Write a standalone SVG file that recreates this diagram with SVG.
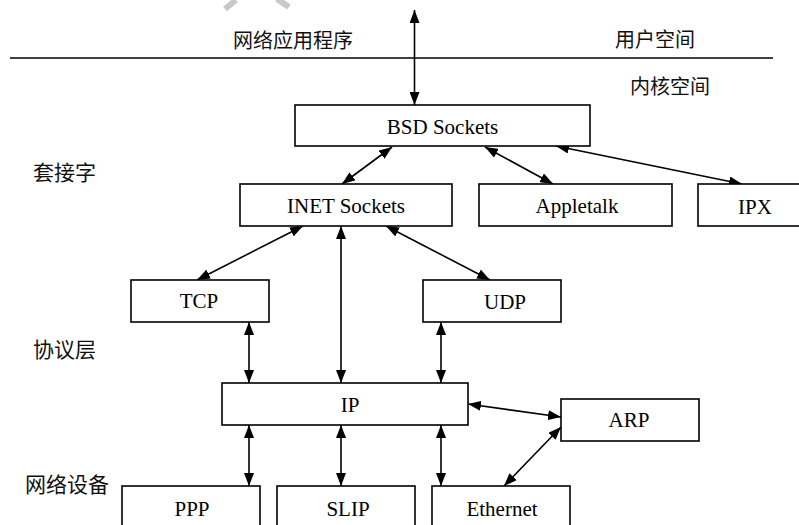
<svg xmlns="http://www.w3.org/2000/svg" width="799" height="525" viewBox="0 0 799 525">
<style>
.box{fill:#fff;stroke:#000;stroke-width:1.6}
.t{font-family:"Liberation Serif","Times New Roman",serif;font-size:21px;fill:#000;text-anchor:middle}
.c{font-family:"Noto Sans CJK SC","Noto Sans CJK TC",sans-serif;font-size:20px;fill:#111}
.e{stroke:#000;stroke-width:1.6;fill:none;marker-start:url(#a);marker-end:url(#a)}
</style>
<defs>
<marker id="a" viewBox="0 0 13 10" refX="13" refY="5" markerWidth="13" markerHeight="10" markerUnits="userSpaceOnUse" orient="auto-start-reverse">
<path d="M0,0 L13,5 L0,10 Z" fill="#000"/>
</marker>
</defs>
<rect width="799" height="525" fill="#fff"/>
<g id="watermark" stroke="#c8c8c8" stroke-width="6" stroke-linecap="butt">
<line x1="225" y1="9" x2="236" y2="0"/>
<line x1="277" y1="-1" x2="289" y2="7"/>
</g>
<g id="boundary">
<line x1="10" y1="58" x2="773" y2="58" stroke="#000" stroke-width="1.6"/>
<text class="c" x="233" y="48">网络应用程序</text>
<text class="c" x="615" y="47">用户空间</text>
<text class="c" x="630" y="94">内核空间</text>
</g>
<g id="labels">
<text class="c" x="33" y="180" style="font-size:21px">套接字</text>
<text class="c" x="33" y="357" style="font-size:21px">协议层</text>
<text class="c" x="25" y="492" style="font-size:21px">网络设备</text>
</g>
<g id="connectors">
<line class="e" x1="414.5" y1="10" x2="414.5" y2="105"/>
<line class="e" x1="392" y1="147" x2="342" y2="184"/>
<line class="e" x1="485" y1="147" x2="553" y2="184"/>
<line class="e" x1="556" y1="146" x2="742" y2="184"/>
<line class="e" x1="303" y1="226" x2="197" y2="280"/>
<line class="e" x1="341" y1="226" x2="341" y2="383"/>
<line class="e" x1="386" y1="226" x2="490" y2="280"/>
<line class="e" x1="249" y1="322" x2="249" y2="383"/>
<line class="e" x1="441" y1="322" x2="441" y2="383"/>
<line class="e" x1="468" y1="404" x2="561" y2="417"/>
<line class="e" x1="249" y1="425" x2="249" y2="486"/>
<line class="e" x1="341" y1="425" x2="341" y2="486"/>
<line class="e" x1="441" y1="425" x2="441" y2="486"/>
<line class="e" x1="561" y1="427" x2="504" y2="486"/>
</g>
<g id="bsd"><rect class="box" x="295" y="105" width="295" height="41"/><text class="t" x="442.5" y="134">BSD Sockets</text></g>
<g id="inet"><rect class="box" x="240" y="184" width="212" height="42"/><text class="t" x="346" y="213">INET Sockets</text></g>
<g id="appletalk"><rect class="box" x="479" y="184" width="193" height="42"/><text class="t" x="577" y="213">Appletalk</text></g>
<g id="ipx"><rect class="box" x="698" y="184" width="110" height="42"/><text class="t" x="755" y="214">IPX</text></g>
<g id="tcp"><rect class="box" x="131" y="280" width="138" height="42"/><text class="t" x="199" y="308">TCP</text></g>
<g id="udp"><rect class="box" x="423" y="280" width="138" height="42"/><text class="t" x="505" y="309">UDP</text></g>
<g id="ip"><rect class="box" x="222" y="383" width="246" height="42"/><text class="t" x="350" y="412">IP</text></g>
<g id="arp"><rect class="box" x="561" y="399" width="138" height="42"/><text class="t" x="629" y="427">ARP</text></g>
<g id="ppp"><rect class="box" x="122" y="486" width="138" height="50"/><text class="t" x="192" y="516">PPP</text></g>
<g id="slip"><rect class="box" x="277" y="486" width="138" height="50"/><text class="t" x="348" y="516">SLIP</text></g>
<g id="ethernet"><rect class="box" x="432" y="486" width="138" height="50"/><text class="t" x="502" y="516">Ethernet</text></g>
</svg>
